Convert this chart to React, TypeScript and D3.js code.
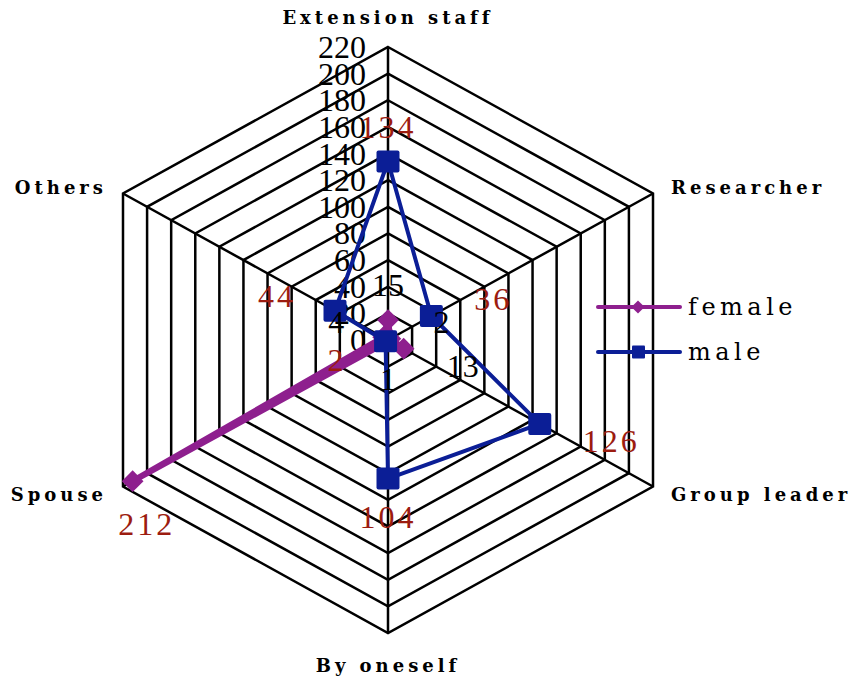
import React, { useEffect, useRef } from 'react';
import * as d3 from 'd3';

const categories = ['Extension staff', 'Researcher', 'Group leader', 'By oneself', 'Spouse', 'Others'];
const femaleValues = [15, 2, 13, 1, 212, 4];
const maleValues = [134, 36, 126, 104, 2, 44];
const tickValues = [0, 20, 40, 60, 80, 100, 120, 140, 160, 180, 200, 220];
const seriesNames = ['female', 'male'];

const App = () => {
  const svgRef = useRef<SVGSVGElement>(null);

  useEffect(() => {
    const svg = d3.select(svgRef.current);
    svg.selectAll('*').remove();

    const cx = 388, cy = 340;
    const rx = 306, ry = 293;
    const n = categories.length;

    const r = d3.scaleLinear().domain([0, 220]).range([0, 1]);
    const angle = (i: number) => (i * 2 * Math.PI) / n;
    const px = (i: number, v: number) => cx + Math.sin(angle(i)) * r(v) * rx;
    const py = (i: number, v: number) => cy - Math.cos(angle(i)) * r(v) * ry;

    const g = svg.append('g');

    // rings
    tickValues.filter(t => t > 0).forEach(t => {
      const pts = categories.map((_, i) => [px(i, t), py(i, t)]);
      g.append('polygon')
        .attr('points', pts.map(p => p.join(',')).join(' '))
        .attr('fill', 'none')
        .attr('stroke', '#000')
        .attr('stroke-width', 2.5);
    });

    // spokes
    categories.forEach((_, i) => {
      g.append('line')
        .attr('x1', cx).attr('y1', cy)
        .attr('x2', px(i, 220)).attr('y2', py(i, 220))
        .attr('stroke', '#000')
        .attr('stroke-width', 2.5);
    });

    // tick labels
    g.selectAll('text.tick')
      .data(tickValues)
      .enter()
      .append('text')
      .attr('class', 'tick')
      .attr('x', 366)
      .attr('y', d => py(0, d))
      .attr('text-anchor', 'end')
      .attr('dominant-baseline', 'central')
      .attr('font-family', '"Liberation Serif", serif')
      .attr('font-size', 32)
      .attr('fill', '#000')
      .text(d => d);

    // category labels
    categories.forEach((c, i) => {
      const vx = px(i, 220), vy = py(i, 220);
      const s = Math.sin(angle(i)), co = Math.cos(angle(i));
      let x = vx, y = vy, anchor = 'middle';
      if (Math.abs(s) < 0.01) {
        y = co > 0 ? vy - 30 : vy + 32;
      } else {
        x = s > 0 ? vx + 18 : vx - 16;
        anchor = s > 0 ? 'start' : 'end';
        y = co > 0 ? vy - 6 : vy + 8;
      }
      g.append('text')
        .attr('x', x)
        .attr('y', y)
        .attr('text-anchor', anchor)
        .attr('dominant-baseline', 'central')
        .attr('font-family', '"DejaVu Serif", serif')
        .attr('font-weight', 'bold')
        .attr('font-size', 18)
        .attr('letter-spacing', 4)
        .attr('fill', '#000')
        .text(c);
    });

    const series = [
      { name: seriesNames[0], values: femaleValues, color: '#8e1f8e', width: 6, marker: 'diamond' },
      { name: seriesNames[1], values: maleValues, color: '#0b1e96', width: 4, marker: 'square' },
    ];

    const line = d3.line<number>()
      .x((v, i) => px(i, v))
      .y((v, i) => py(i, v))
      .curve(d3.curveLinearClosed);

    series.forEach(s => {
      g.append('path')
        .attr('d', line(s.values))
        .attr('fill', 'none')
        .attr('stroke', s.color)
        .attr('stroke-width', s.width)
        .attr('stroke-linejoin', 'round');

      s.values.forEach((v, i) => {
        const x = px(i, v), y = py(i, v);
        if (s.marker === 'square') {
          g.append('rect')
            .attr('x', x - 11.5).attr('y', y - 11)
            .attr('width', 23).attr('height', 22)
            .attr('rx', 2)
            .attr('fill', s.color);
        } else {
          g.append('path')
            .attr('d', d3.symbol(d3.symbolDiamond2, 300)())
            .attr('transform', `translate(${x},${y})`)
            .attr('fill', s.color);
        }
      });
    });

    // data labels: female small values black, the rest dark red
    const red = '#9c1c10';
    series.forEach((s, si) => {
      s.values.forEach((v, i) => {
        const x = px(i, v), y = py(i, v);
        const sn = Math.sin(angle(i)), co = Math.cos(angle(i));
        const color = si === 1 || v > 100 ? red : '#000';
        let lx = x, ly = y, anchor = 'middle';
        if (Math.abs(sn) < 0.01) {
          ly = co > 0 ? y - 35 : y + 38;
        } else if (sn > 0) {
          lx = x + 43; anchor = 'start';
          ly = co > 0 ? y - 17 : y + 17;
        } else {
          lx = x - 39; anchor = 'end';
          ly = co > 0 ? y - 15 : y + 19;
          if (lx - 60 < 110) {
            lx = x + 14; anchor = 'middle'; ly = y + 43;
          }
        }
        g.append('text')
          .attr('x', lx)
          .attr('y', ly)
          .attr('text-anchor', anchor)
          .attr('dominant-baseline', 'central')
          .attr('font-family', '"Liberation Serif", serif')
          .attr('font-size', 32)
          .attr('letter-spacing', color === red ? 3 : 0)
          .attr('fill', color)
          .text(v);
      });
    });

    // legend
    const legend = g.append('g');
    series.forEach((s, si) => {
      const ly = 307 + si * 45;
      legend.append('line')
        .attr('x1', 598).attr('x2', 680)
        .attr('y1', ly).attr('y2', ly)
        .attr('stroke', s.color)
        .attr('stroke-width', 4)
        .attr('stroke-linecap', 'round');
      if (s.marker === 'square') {
        legend.append('rect')
          .attr('x', 632).attr('y', ly - 6.5)
          .attr('width', 13).attr('height', 13)
          .attr('rx', 1)
          .attr('fill', s.color);
      } else {
        legend.append('path')
          .attr('d', d3.symbol(d3.symbolDiamond2, 110)())
          .attr('transform', `translate(638,${ly})`)
          .attr('fill', s.color);
      }
      legend.append('text')
        .attr('x', 688)
        .attr('y', ly)
        .attr('dominant-baseline', 'central')
        .attr('font-family', '"DejaVu Serif", serif')
        .attr('font-size', 24)
        .attr('letter-spacing', 4.5)
        .attr('fill', '#000')
        .text(s.name);
    });
  }, []);

  return (
    <svg
      ref={svgRef}
      width={853}
      height={683}
      style={{ position: 'absolute', left: 0, top: 0, background: '#fff' }}
    />
  );
};

export default App;
